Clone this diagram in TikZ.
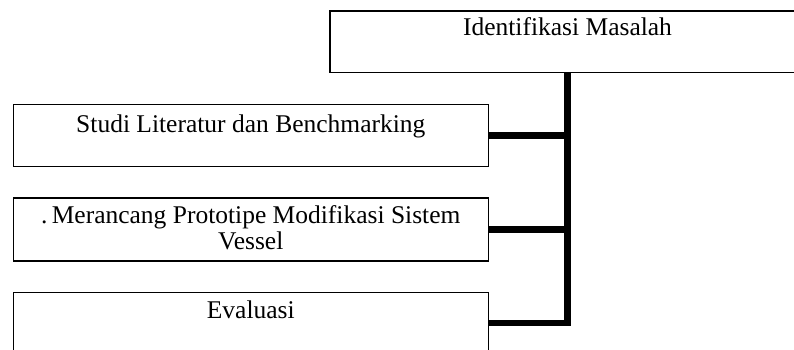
\documentclass[tikz,border=0pt]{standalone}
\usepackage{fontspec}
\setmainfont{Liberation Serif}
\usetikzlibrary{positioning,calc}

\begin{document}
\begin{tikzpicture}[x=1pt, y=-1pt,
  nbox/.style={draw, line width=1.2pt, minimum width=475pt, minimum height=61.5pt, inner sep=0pt},
  ntxt/.style={font=\fontsize{25.5}{26.5}\selectfont, align=center, inner sep=0pt, anchor=base},
  bus/.style={line width=6.2pt}
 ]
  \useasboundingbox (0,0) rectangle (794,350);

  \node [nbox] (ident) at (567.5,41.75) {};
  \node [nbox] (studi) at (250.8,135.5) {};
  \node [nbox, minimum height=63pt] (meran) at (250.8,229.5) {};
  \node [nbox] (eval) at (250.8,323) {};

  \node [ntxt] (identtxt) at ([yshift=-25pt]ident.north) {Identifikasi Masalah};
  \node [ntxt] (studitxt) at ([yshift=-28pt]studi.north) {Studi Literatur dan Benchmarking};
  % base of a two-line node is the last line
  \node [ntxt] (merantxt) at ([yshift=-52.5pt]meran.north) {.\,Merancang Prototipe Modifikasi Sistem\\Vessel};
  \node [ntxt] (evaltxt) at ([yshift=-27pt]eval.north) {Evaluasi};

  \draw [bus] (ident.south) |- (eval.east);
  \foreach \n in {studi,meran}
   \draw [bus] (\n.east) -- (\n.east -| ident.south);
\end{tikzpicture}
\end{document}
